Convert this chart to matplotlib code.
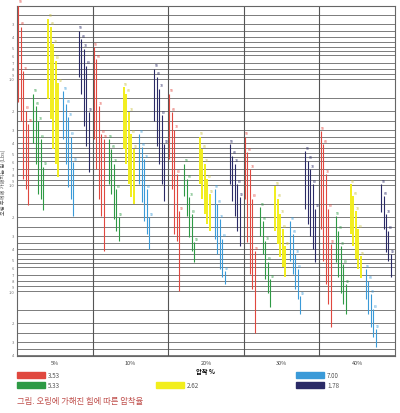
import matplotlib
matplotlib.use('Agg')
import matplotlib.pyplot as plt
from matplotlib.patches import Rectangle

plt.rcParams['font.family'] = ['Noto Sans CJK KR', 'DejaVu Sans']

groups = ['5%', '10%', '20%', '30%', '40%']
sizes = ['3.53', '5.33', '2.62', '7.00', '1.78']
colors = ['#e0483f', '#2e9a45', '#f2ee1c', '#3a9ad8', '#2a2a66']
hardness = ['50', '60', '70', '80', '90']

# top / bottom of each hardness bar, [group][bar]
red_top = [[0.020, 0.032, 0.084, 0.20, 0.265], [0.05, 0.065, 0.18, 0.33, 0.37],
           [0.138, 0.205, 0.30, 0.79, 1.76], [0.35, 0.49, 0.71, 1.35, 4.2], [0.31, 0.41, 0.79, 1.68, 3.6]]
red_bot = [[0.165, 0.25, 0.88, 1.09, 1.55], [0.37, 0.71, 1.35, 1.96, 4.2],
           [0.57, 1.09, 2.9, 3.4, 10], [1.35, 3.45, 6.9, 9.6, 24.7], [2.6, 5.2, 8.6, 13.3, 22]]
green_top = [[0.138, 0.18, 0.25, 0.37, 0.67], [0.37, 0.46, 0.63, 1.09, 2.0],
             [0.63, 0.88, 1.3, 1.88, 3.45], [1.61, 2.2, 3.4, 5.3, 7.7], [1.96, 2.7, 3.8, 5.6, 8.6]]
green_bot = [[0.40, 0.63, 1.22, 1.35, 1.71], [0.98, 1.22, 2.09, 2.7, 3.4],
             [1.27, 1.96, 3.1, 4.2, 5.3], [3.0, 4.5, 7.7, 10.4, 14.0], [5.3, 7.3, 10.4, 13.3, 16.5]]
yellow_top = [[0.027, 0.032, 0.047, 0.067, 0.11], [0.12, 0.138, 0.205, 0.33, 0.46],
              [0.35, 0.46, 0.63, 0.88, 1.22], [1.02, 1.35, 1.88, 2.6, 3.8], [0.98, 1.27, 1.76, 2.6, 4.7]]
yellow_bot = [[0.154, 0.238, 0.46, 0.63, 0.84], [0.46, 0.63, 0.98, 1.3, 1.51],
              [0.98, 1.35, 1.88, 2.33, 2.7], [2.7, 3.6, 4.8, 5.9, 7.3], [2.9, 3.8, 5.0, 6.2, 7.5]]
blue_top = [[0.13, 0.172, 0.23, 0.35, 0.61], [0.33, 0.44, 0.57, 1.09, 2.0],
            [1.09, 1.51, 2.09, 3.2, 6.5], [2.2, 2.9, 4.5, 6.2, 11.2], [6.2, 8.0, 10.7, 14.8, 22.8]]
blue_bot = [[0.37, 0.63, 1.04, 1.35, 1.96], [0.98, 1.45, 2.2, 2.9, 4.0],
            [3.2, 4.5, 6.2, 7.3, 8.6], [5.2, 6.9, 9.6, 11.9, 16.5], [11.9, 16.5, 22, 27, 33.6]]
navy_top = [[0.035, 0.042, 0.052, 0.075, 0.205], [0.08, 0.095, 0.124, 0.22, 0.41],
            [0.41, 0.53, 0.63, 0.98, 1.3], [0.48, 0.59, 0.71, 0.98, 1.68], [0.98, 1.27, 1.88, 2.7, 4.5]]
navy_bot = [[0.096, 0.138, 0.28, 0.43, 0.75], [0.25, 0.43, 0.63, 0.98, 1.41],
            [0.98, 1.41, 1.96, 2.7, 3.8], [1.68, 2.33, 3.0, 4.0, 5.3], [1.8, 2.6, 4.3, 5.2, 7.3]]

tops = [red_top, green_top, yellow_top, blue_top, navy_top]
bots = [red_bot, green_bot, yellow_bot, blue_bot, navy_bot]

grid_mult = [1, 1.5, 2, 2.5, 3, 3.5, 4, 4.5, 5, 5.5, 6, 7, 8, 9]
decades = [0.01, 0.1, 1, 10]

fig = plt.figure(figsize=(4, 4.14), dpi=100)
ax = fig.add_axes([0.0425, 0.1377, 0.945, 0.8454])
ax.set_yscale('log')
ax.set_ylim(41, 0.0205)
ax.set_xlim(0, 5)

gridvals, gridlabels = [], []
for d in decades:
    for m in grid_mult:
        v = d * m
        if 0.0205 <= v <= 41:
            gridvals.append(v)
            if m == 1:
                gridlabels.append('1.0')
            elif m == int(m):
                gridlabels.append(str(int(m)))
            else:
                gridlabels.append('')
for v in gridvals:
    ax.axhline(v, color='#666666', lw=0.6, zorder=1)
ax.set_yticks(gridvals)
ax.set_yticklabels(gridlabels, fontsize=3, color='#777777')
ax.yaxis.set_minor_locator(matplotlib.ticker.NullLocator())
ax.tick_params(axis='y', length=0, pad=2)

for g in range(1, 5):
    ax.axvline(g, color='#555555', lw=0.8, zorder=1)

for g in range(len(groups)):
    for c in range(len(sizes)):
        for k in range(len(hardness)):
            x = g + 0.015 + c * 0.2 + k * 0.033
            t, b = tops[c][g][k], bots[c][g][k]
            lw = 1.4 if c == 2 else 0.8
            ax.vlines(x, t, b, color=colors[c], lw=lw, zorder=3)
            ax.text(x + 0.005, t * 0.97, hardness[k], fontsize=2.5, color=colors[c] if c != 2 else '#c8c040',
                    ha='left', va='bottom', zorder=4)

ax.set_xticks([g + 0.5 for g in range(len(groups))])
ax.set_xticklabels(groups, fontsize=4, color='#444444')
ax.tick_params(axis='x', length=0, pad=3)
ax.set_xlabel('압착 %', fontsize=4.5, fontweight='bold', labelpad=1)
ax.set_ylabel('오링 두께에 가해지는 힘 (Lbs)', fontsize=3.8, color='#555555', labelpad=3)
ax.yaxis.set_label_coords(-0.03, 0.5)
for s in ax.spines.values():
    s.set_color('#666666')
    s.set_linewidth(0.8)

# legend
legend_pos = [(17, 373), (17, 383), (156, 383), (296, 373), (296, 383)]
for c, (px, py) in enumerate(legend_pos):
    fig.patches.append(Rectangle((px / 400, 1 - (py + 6) / 414), 28 / 400, 6 / 414,
                                 transform=fig.transFigure, color=colors[c]))
    fig.text((px + 31) / 400, 1 - (py + 3) / 414, sizes[c], fontsize=4.5, color='#555555', va='center')

fig.text(17 / 400, 1 - 402 / 414, '그림. 오링에 가해진 힘에 따른 압착율', fontsize=6, color='#c0504d', va='center')

fig.savefig('out.png', dpi=100)
